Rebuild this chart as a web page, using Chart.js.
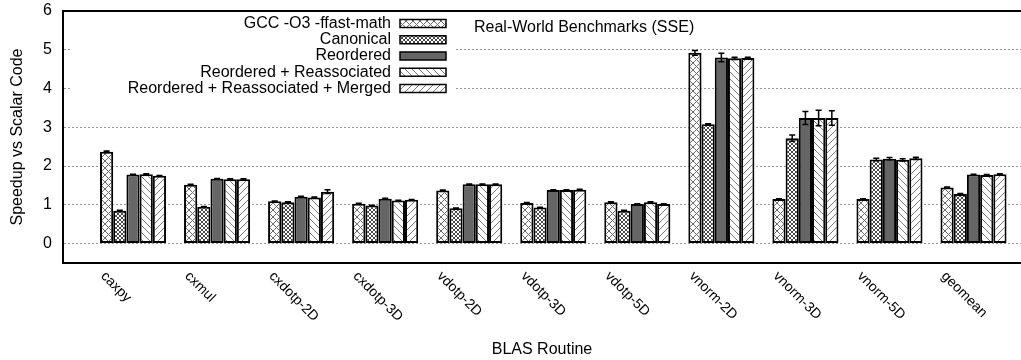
<!DOCTYPE html>
<html>
<head>
<meta charset="utf-8">
<title>Real-World Benchmarks (SSE)</title>
<script src="https://cdn.jsdelivr.net/npm/chart.js@4.4.1/dist/chart.umd.min.js"></script>
<style>
  html, body { margin: 0; padding: 0; background: #fff; }
  #wrap { width: 1021px; height: 360px; position: relative; }
</style>
</head>
<body>
<div id="wrap"><canvas id="cBench"></canvas></div>
<script>
// ---- data ----
var CATS = ["caxpy", "cxmul", "cxdotp-2D", "cxdotp-3D", "vdotp-2D", "vdotp-3D", "vdotp-5D",
  "vnorm-2D", "vnorm-3D", "vnorm-5D", "geomean"];
var NAMES = ["GCC -O3 -ffast-math", "Canonical", "Reordered", "Reordered + Reassociated",
  "Reordered + Reassociated + Merged"];

var GCC     = [2.37, 1.52, 1.09, 1.03, 1.37, 1.05, 1.07, 4.92, 1.15, 1.15, 1.45];
var CANON   = [0.85, 0.95, 1.07, 0.98, 0.91, 0.93, 0.85, 3.08, 2.72, 2.17, 1.28];
var REORD   = [1.78, 1.67, 1.21, 1.16, 1.53, 1.38, 1.02, 4.80, 3.24, 2.19, 1.78];
var REASSOC = [1.79, 1.66, 1.19, 1.11, 1.53, 1.38, 1.07, 4.78, 3.24, 2.16, 1.77];
var MERGED  = [1.75, 1.66, 1.34, 1.13, 1.53, 1.39, 1.02, 4.79, 3.24, 2.20, 1.79];

var E_GCC     = [0.02, 0.01, 0.01, 0.01, 0.01, 0.01, 0.01, 0.06, 0.01, 0.01, 0.01];
var E_CANON   = [0.01, 0.01, 0.01, 0.01, 0.01, 0.01, 0.01, 0.01, 0.08, 0.03, 0.01];
var E_REORD   = [0.01, 0.01, 0.01, 0.01, 0.01, 0.01, 0.01, 0.11, 0.17, 0.03, 0.01];
var E_REASSOC = [0.01, 0.01, 0.01, 0.01, 0.01, 0.01, 0.01, 0.03, 0.20, 0.03, 0.01];
var E_MERGED  = [0.01, 0.01, 0.05, 0.01, 0.01, 0.01, 0.01, 0.02, 0.19, 0.03, 0.01];

var Y_TICKS = [0, 1, 2, 3, 4, 5, 6];
var TITLE = "Real-World Benchmarks (SSE)";

var FONT = "'Liberation Sans', Arial, Helvetica, sans-serif";

// gnuplot-ish fill patterns
function hatch(kind, s, col) {
  var c = document.createElement("canvas");
  c.width = s; c.height = s;
  var g = c.getContext("2d");
  g.fillStyle = "#fff"; g.fillRect(0, 0, s, s);
  g.strokeStyle = col; g.lineWidth = 1;
  g.beginPath();
  for (var k = -s; k <= s; k += s) {
    if (kind === "back" || kind === "cross") { g.moveTo(k, 0); g.lineTo(k + s, s); }
    if (kind === "fwd" || kind === "cross") { g.moveTo(k, s); g.lineTo(k + s, 0); }
  }
  g.stroke();
  return g.createPattern(c, "repeat");
}

var FILLS = [hatch("cross", 7, "#6a6a6a"), hatch("cross", 4, "#4a4a4a"), "#666666",
  hatch("back", 7, "#7a7a7a"), hatch("fwd", 7, "#7a7a7a")];
var VALS = [GCC, CANON, REORD, REASSOC, MERGED];
var ERRS = [E_GCC, E_CANON, E_REORD, E_REASSOC, E_MERGED];

function pts(vals) { return vals.map(function (v, i) { return { x: i, y: v }; }); }

var datasets = NAMES.map(function (n, k) {
  return {
    label: n, data: pts(VALS[k]), errors: ERRS[k],
    backgroundColor: FILLS[k], borderColor: "#000", borderWidth: 2, borderSkipped: false,
    categoryPercentage: 0.786, barPercentage: 1
  };
});

var overlay = {
  id: "overlay",
  beforeDatasetsDraw: function (chart) {
    // opaque key box hides grid lines behind it
    var c = chart.ctx, a = chart.chartArea;
    c.save(); c.fillStyle = "#fff"; c.fillRect(a.left + 7, a.top + 2, 386, 85); c.restore();
  },
  afterDatasetsDraw: function (chart) {
    var c = chart.ctx, ys = chart.scales.y;
    c.save(); c.strokeStyle = "#000"; c.lineWidth = 1.5;
    chart.data.datasets.forEach(function (ds, k) {
      chart.getDatasetMeta(k).data.forEach(function (bar, i) {
        var v = ds.data[i].y, e = ds.errors[i];
        var t = ys.getPixelForValue(v + e), b = ys.getPixelForValue(v - e);
        c.beginPath();
        c.moveTo(bar.x, t); c.lineTo(bar.x, b);
        c.moveTo(bar.x - 3, t); c.lineTo(bar.x + 3, t);
        c.moveTo(bar.x - 3, b); c.lineTo(bar.x + 3, b);
        c.stroke();
      });
    });
    c.restore();
  },
  afterDraw: function (chart) {
    var c = chart.ctx, a = chart.chartArea, xs = chart.scales.x;
    c.save();
    // top frame line
    c.strokeStyle = "#000"; c.lineWidth = 2;
    c.beginPath(); c.moveTo(a.left - 1, a.top); c.lineTo(a.right, a.top); c.stroke();

    c.fillStyle = "#000";
    // rotated category labels (clockwise, like gnuplot "rotate by -45")
    c.font = "14px " + FONT; c.textAlign = "left"; c.textBaseline = "middle";
    CATS.forEach(function (lab, i) {
      c.save();
      c.translate(xs.getPixelForValue(i) - 30, a.bottom + 11);
      c.rotate(Math.PI / 4);
      c.fillText(lab, 0, 0);
      c.restore();
    });

    // in-plot title
    c.font = "16px " + FONT; c.textAlign = "left";
    c.fillText(TITLE, 474, a.top + 16.5);

    // key
    c.textAlign = "right";
    chart.data.datasets.forEach(function (ds, k) {
      var y = a.top + 12.5 + k * 16.25;
      c.fillStyle = "#000";
      c.fillText(ds.label, 391, y);
      c.fillStyle = ds.backgroundColor;
      c.fillRect(400, y - 4, 46, 8);
      c.lineWidth = 1.5; c.strokeStyle = "#000";
      c.strokeRect(400, y - 4, 46, 8);
    });
    c.restore();
  }
};

new Chart(document.getElementById("cBench").getContext("2d"), {
  type: "bar",
  data: { datasets: datasets },
  plugins: [overlay],
  options: {
    responsive: true, maintainAspectRatio: false, animation: false,
    layout: { padding: { top: 11, right: 0, left: 0, bottom: 0 } },
    plugins: { legend: { display: false }, tooltip: { enabled: false } },
    scales: {
      x: {
        type: "linear", min: -0.833, max: 10.565, offset: false,
        afterBuildTicks: function (s) {
          s.ticks = CATS.map(function (c, i) { return { value: i }; });
        },
        grid: { display: false },
        border: { display: true, color: "#000", width: 2 },
        ticks: { display: false },
        title: { display: true, text: "BLAS Routine", color: "#000", font: { family: FONT, size: 16 }, padding: { top: 0, bottom: 1 } },
        afterFit: function (s) { s.height = 97; s.paddingLeft = 0; s.paddingRight = 0; }
      },
      y: {
        min: -0.5, max: 6,
        afterBuildTicks: function (s) {
          s.ticks = Y_TICKS.map(function (v) { return { value: v }; });
        },
        ticks: { padding: 11, color: "#000", font: { family: FONT, size: 16 } },
        grid: { color: "#999", lineWidth: 1, drawTicks: false },
        border: { display: true, color: "#000", width: 2, dash: [2, 2] },
        title: { display: true, text: "Speedup vs Scalar Code", color: "#000", font: { family: FONT, size: 16 }, padding: { top: 8, bottom: 0 } },
        afterFit: function (s) { s.width = 63; s.paddingTop = 0; s.paddingBottom = 0; }
      }
    }
  }
});
</script>
</body>
</html>
